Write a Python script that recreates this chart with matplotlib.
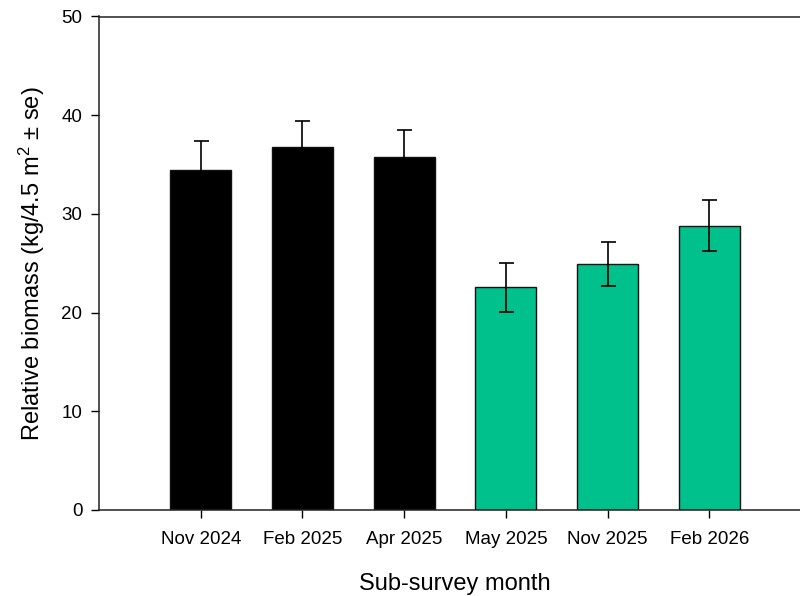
import numpy as np
import matplotlib
matplotlib.use('Agg')
import matplotlib.pyplot as plt

plt.rcParams['font.family'] = ['Liberation Sans', 'DejaVu Sans']
plt.rcParams['mathtext.fontset'] = 'custom'
plt.rcParams['mathtext.rm'] = 'Liberation Sans'
plt.rcParams['mathtext.it'] = 'Liberation Sans:italic'

# data
months = ['Nov 2024', 'Feb 2025', 'Apr 2025', 'May 2025', 'Nov 2025', 'Feb 2026']
biomass = [34.45, 36.8, 35.75, 22.55, 24.9, 28.8]
se = [2.95, 2.65, 2.8, 2.5, 2.25, 2.6]
colors = ['black', 'black', 'black', '#00c08c', '#00c08c', '#00c08c']

fig = plt.figure(figsize=(8, 5.96), dpi=100)
ax = fig.add_axes([99 / 800, 86 / 596, 712 / 800, 493.5 / 596])

x = np.arange(1, len(months) + 1)
ax.bar(x, biomass, width=0.6, color=colors, edgecolor='#111111', linewidth=1.0,
       yerr=se, capsize=5.4, error_kw=dict(ecolor='black', elinewidth=1.2, capthick=1.2))

ax.set_xlim(0, 7)
ax.set_ylim(0, 50)
ax.set_yticks([0, 10, 20, 30, 40, 50])
ax.set_xticks(x)
ax.set_xticklabels(months)
ax.tick_params(axis='both', direction='out', length=6, width=1, labelsize=13.5, pad=6)
ax.tick_params(axis='x', pad=9)
for s in ax.spines.values():
    s.set_linewidth(1.1)
    s.set_color('#222222')

ax.set_xlabel('Sub-survey month', fontsize=17, labelpad=18)
ax.set_ylabel(r'Relative biomass (kg/4.5 m$^2$ ± se)', fontsize=17, labelpad=10)

fig.savefig('out.png', dpi=100)
